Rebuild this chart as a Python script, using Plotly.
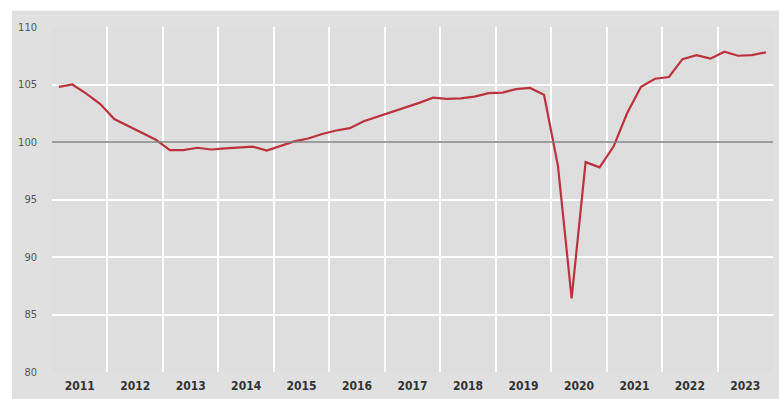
import plotly.graph_objects as go

years = list(range(2011, 2024))
quarter_mid = ["02-15", "05-15", "08-15", "11-15"]
dates = [f"{y}-{q}" for y in years for q in quarter_mid]

values = [
    104.8, 105.0, 104.2, 103.3,   # 2011
    102.0, 101.4, 100.8, 100.2,   # 2012
    99.3, 99.3, 99.5, 99.35,      # 2013
    99.45, 99.5, 99.6, 99.25,     # 2014
    99.65, 100.05, 100.3, 100.7,  # 2015
    101.0, 101.2, 101.8, 102.2,   # 2016
    102.6, 102.95, 103.4, 103.85, # 2017
    103.75, 103.8, 103.95, 104.25,# 2018
    104.3, 104.6, 104.7, 104.1,   # 2019
    97.9, 86.4, 98.25, 97.8,      # 2020
    99.6, 102.5, 104.8, 105.5,    # 2021
    105.65, 107.2, 107.55, 107.25,# 2022
    107.85, 107.5, 107.55, 107.8, # 2023
]

y_ticks = [80, 85, 90, 95, 100, 105, 110]

FONT = "Liberation Sans Narrow, DejaVu Sans Condensed, Arial Narrow, sans-serif"

fig = go.Figure()
fig.add_trace(go.Scatter(
    x=dates, y=values, mode="lines",
    line=dict(color="#bb323d", width=2.2),
    hoverinfo="skip", showlegend=False,
))

fig.add_hline(y=100, line=dict(color="#7d7d7d", width=1.5))

# white strip at top and left (page edges outside the grey panel)
fig.add_shape(type="rect", xref="paper", yref="paper",
              x0=-0.1, x1=1.02, y0=1.047, y1=1.2,
              fillcolor="white", line_width=0, layer="below")
fig.add_shape(type="rect", xref="paper", yref="paper",
              x0=-0.1, x1=(12 - 52) / 721, y0=-0.2, y1=1.2,
              fillcolor="white", line_width=0, layer="below")

fig.update_layout(
    width=779, height=399,
    margin=dict(l=52, r=6, t=27, b=25),
    paper_bgcolor="#e0e0e0",
    plot_bgcolor="#dedede",
    font=dict(family=FONT),
    xaxis=dict(
        type="date",
        range=["2011-01-01", "2024-01-01"],
        tick0="2011-01-01", dtick="M12",
        ticklabelmode="period", tickformat="%Y",
        showgrid=True, gridcolor="#ffffff", gridwidth=1.5,
        zeroline=False, showline=False, ticks="",
        tickfont=dict(size=12, color="#333333", family=FONT, weight="bold"),
        ticklabelstandoff=5,
    ),
    yaxis=dict(
        range=[80, 110], tickvals=y_ticks,
        showgrid=True, gridcolor="#ffffff", gridwidth=1.5,
        zeroline=False, showline=False, ticks="",
        tickfont=dict(size=11, color="#555555", family=FONT),
        ticklabelstandoff=14,
    ),
)

fig.write_html("out.html")
